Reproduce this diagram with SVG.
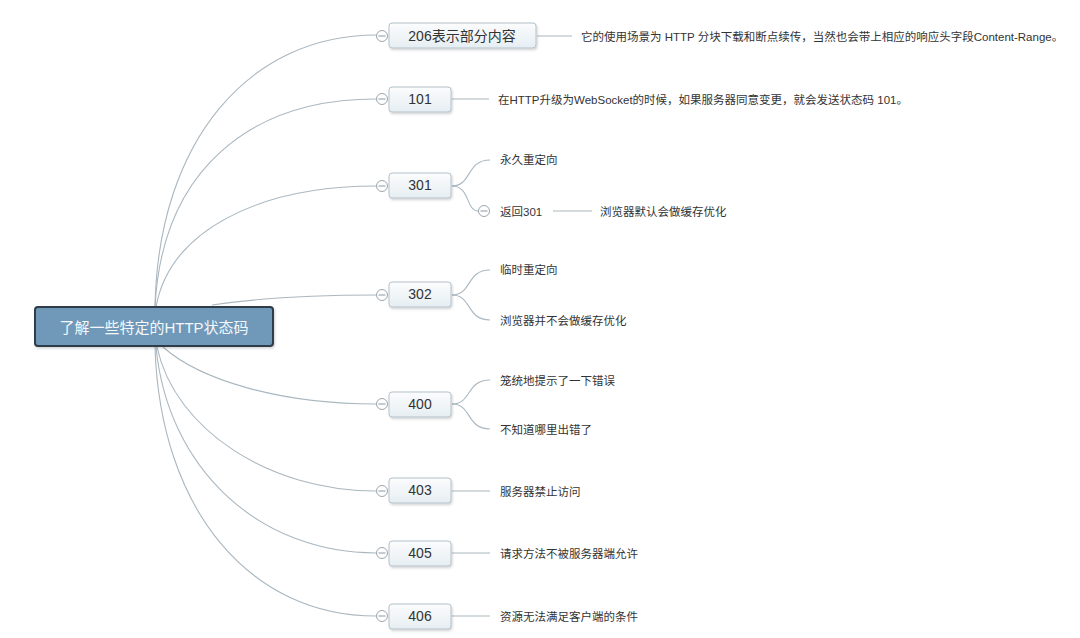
<svg xmlns="http://www.w3.org/2000/svg" width="1080" height="638" viewBox="0 0 1080 638">
<defs>
<linearGradient id="ng" x1="0" y1="0" x2="0" y2="1">
<stop offset="0" stop-color="#fbfcfd"/>
<stop offset="1" stop-color="#e6eef3"/>
</linearGradient>
<filter id="sh" x="-10%" y="-20%" width="120%" height="150%">
<feDropShadow dx="1" dy="1.5" stdDeviation="1.2" flood-color="#000" flood-opacity="0.18"/>
</filter>
<style>
.c{fill:none;stroke:#aab7c0;stroke-width:1.1}
.n{fill:url(#ng);stroke:#b4c1ca;stroke-width:1}
.t{font-family:"Liberation Sans","Noto Sans CJK SC",sans-serif;font-size:14px;fill:#333;text-anchor:middle;dominant-baseline:central}
.l{font-family:"Liberation Sans","Noto Sans CJK SC",sans-serif;font-size:11.5px;fill:#333;dominant-baseline:central}
.k{fill:#fff;stroke:#9aa6ae;stroke-width:1}
.km{stroke:#8a969e;stroke-width:1}
</style>
</defs>
<rect width="1080" height="638" fill="#fff"/>
<g id="connectors">
<path class="c" d="M155,307 C158,140 250,35 376,35"/>
<path class="c" d="M155,307 C162,170 250,99 376,99"/>
<path class="c" d="M156,307 C170,230 260,186 376,186"/>
<path class="c" d="M212,305 C260,298 310,295 376,295"/>
<path class="c" d="M163,347 C200,380 280,404 376,404"/>
<path class="c" d="M157,347 C175,430 270,491 376,491"/>
<path class="c" d="M156,347 C168,470 260,553 376,553"/>
<path class="c" d="M155,347 C160,510 250,616 376,616"/>
<path class="c" d="M537,36 H572"/>
<path class="c" d="M452,99 H489"/>
<path class="c" d="M452,186 C472,186 466,160 490,160"/>
<path class="c" d="M452,186 C470,186 466,211 478,211"/>
<path class="c" d="M553,211 H592"/>
<path class="c" d="M452,295 C472,295 466,270 490,270"/>
<path class="c" d="M452,295 C472,295 466,320 490,320"/>
<path class="c" d="M452,404 C472,404 466,380 490,380"/>
<path class="c" d="M452,404 C472,404 466,429 490,429"/>
<path class="c" d="M452,491 H490"/>
<path class="c" d="M452,553 H490"/>
<path class="c" d="M452,616 H490"/>
</g>
<g id="root">
<rect x="35" y="307" width="238" height="39" rx="3" fill="#6f98b9" stroke="#2e3c48" stroke-width="2" filter="url(#sh)"/>
<text x="154" y="327" class="t" style="font-size:15px;fill:#f4f8fb">了解一些特定的HTTP状态码</text>
</g>
<g id="n206">
<rect class="n" x="389" y="23" width="147" height="25" rx="3" filter="url(#sh)"/>
<text class="t" x="462" y="36">206表示部分内容</text>
<circle class="k" cx="382" cy="36" r="5.5"/><line class="km" x1="378.5" y1="36" x2="385.5" y2="36"/>
<text class="l" x="581" y="37">它的使用场景为 HTTP 分块下载和断点续传，当然也会带上相应的响应头字段Content-Range。</text>
</g>
<g id="n101">
<rect class="n" x="389" y="87" width="62" height="25" rx="3" filter="url(#sh)"/>
<text class="t" x="420" y="99">101</text>
<circle class="k" cx="382" cy="99" r="5.5"/><line class="km" x1="378.5" y1="99" x2="385.5" y2="99"/>
<text class="l" x="498" y="100">在HTTP升级为WebSocket的时候，如果服务器同意变更，就会发送状态码 101。</text>
</g>
<g id="n301">
<rect class="n" x="389" y="173" width="62" height="25" rx="3" filter="url(#sh)"/>
<text class="t" x="420" y="185">301</text>
<circle class="k" cx="382" cy="186" r="5.5"/><line class="km" x1="378.5" y1="186" x2="385.5" y2="186"/>
<text class="l" x="500" y="160">永久重定向</text>
<circle class="k" cx="484" cy="211" r="5.5"/><line class="km" x1="480.5" y1="211" x2="487.5" y2="211"/>
<text class="l" x="500" y="212">返回301</text>
<text class="l" x="600" y="212">浏览器默认会做缓存优化</text>
</g>
<g id="n302">
<rect class="n" x="389" y="282" width="62" height="25" rx="3" filter="url(#sh)"/>
<text class="t" x="420" y="294">302</text>
<circle class="k" cx="382" cy="295" r="5.5"/><line class="km" x1="378.5" y1="295" x2="385.5" y2="295"/>
<text class="l" x="500" y="270">临时重定向</text>
<text class="l" x="500" y="321">浏览器并不会做缓存优化</text>
</g>
<g id="n400">
<rect class="n" x="389" y="392" width="62" height="25" rx="3" filter="url(#sh)"/>
<text class="t" x="420" y="404">400</text>
<circle class="k" cx="382" cy="404" r="5.5"/><line class="km" x1="378.5" y1="404" x2="385.5" y2="404"/>
<text class="l" x="500" y="381">笼统地提示了一下错误</text>
<text class="l" x="500" y="430">不知道哪里出错了</text>
</g>
<g id="n403">
<rect class="n" x="389" y="478" width="62" height="25" rx="3" filter="url(#sh)"/>
<text class="t" x="420" y="490">403</text>
<circle class="k" cx="382" cy="491" r="5.5"/><line class="km" x1="378.5" y1="491" x2="385.5" y2="491"/>
<text class="l" x="500" y="492">服务器禁止访问</text>
</g>
<g id="n405">
<rect class="n" x="389" y="541" width="62" height="25" rx="3" filter="url(#sh)"/>
<text class="t" x="420" y="553">405</text>
<circle class="k" cx="382" cy="553" r="5.5"/><line class="km" x1="378.5" y1="553" x2="385.5" y2="553"/>
<text class="l" x="500" y="554">请求方法不被服务器端允许</text>
</g>
<g id="n406">
<rect class="n" x="389" y="604" width="62" height="25" rx="3" filter="url(#sh)"/>
<text class="t" x="420" y="616">406</text>
<circle class="k" cx="382" cy="616" r="5.5"/><line class="km" x1="378.5" y1="616" x2="385.5" y2="616"/>
<text class="l" x="500" y="617">资源无法满足客户端的条件</text>
</g>
</svg>
